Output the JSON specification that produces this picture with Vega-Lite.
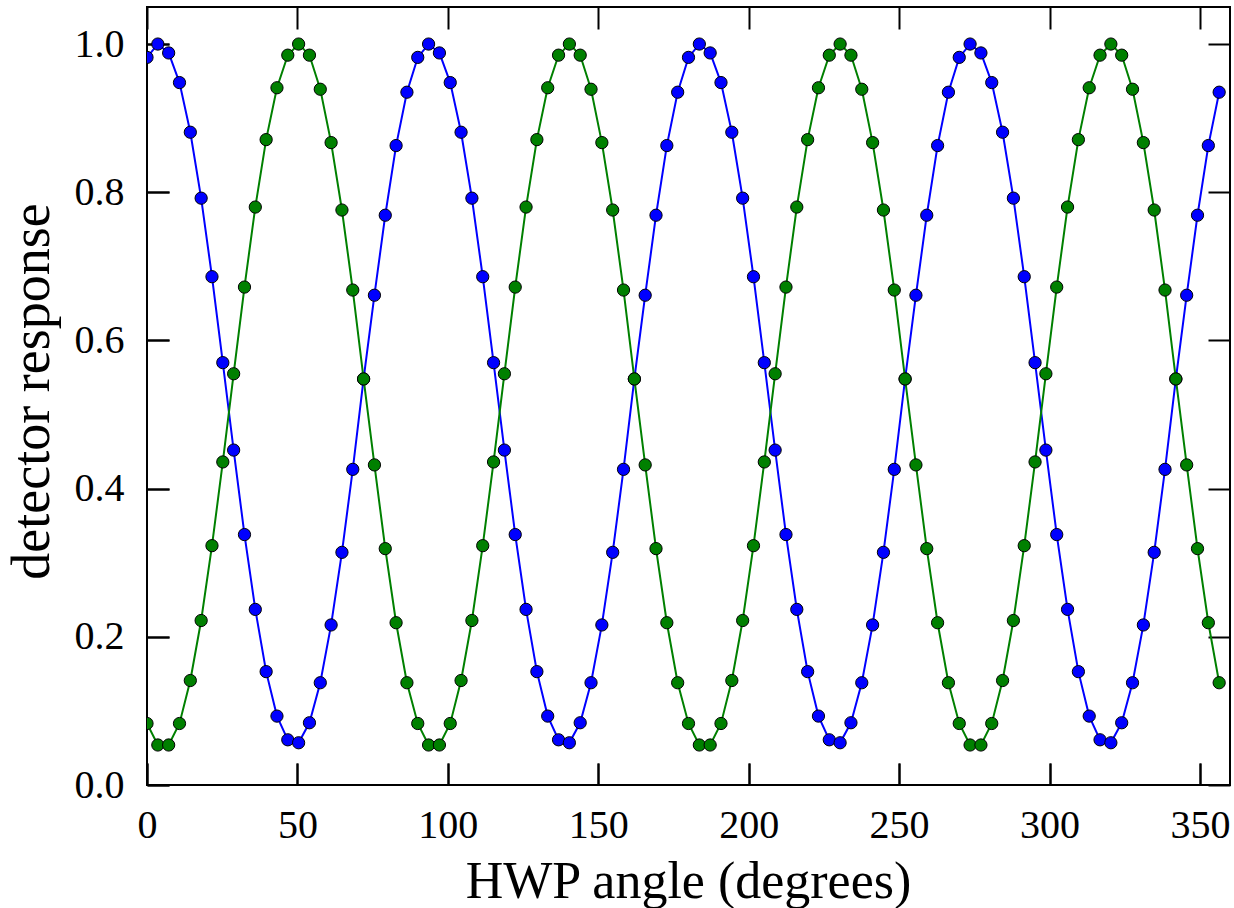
{
  "$schema": "https://vega.github.io/schema/vega-lite/v6.json",
  "autosize": {"type": "none"},
  "width": 1083,
  "height": 778,
  "padding": {"left": 147, "top": 7, "right": 4, "bottom": 123},
  "background": "white",
  "config": {
    "view": {"stroke": "black", "strokeWidth": 2},
    "axis": {
      "grid": false,
      "domain": false,
      "zindex": 1,
      "labelFlush": false,
      "labelOverlap": false,
      "ticks": true,
      "tickColor": "#000000",
      "tickOpacity": 1,
      "tickWidth": 2,
      "tickSize": -22,
      "labelFont": "Liberation Serif",
      "labelFontSize": 40,
      "labelColor": "black",
      "titleFont": "Liberation Serif",
      "titleFontSize": 52,
      "titleFontWeight": "normal",
      "titleColor": "black"
    }
  },
  "datasets": {
    "blue": [
      {"a":0,"r":0.982},{"a":3.6,"r":1.0},{"a":7.2,"r":0.988},{"a":10.8,"r":0.948},{"a":14.4,"r":0.881},{"a":18,"r":0.792},{"a":21.6,"r":0.686},{"a":25.2,"r":0.570},{"a":28.8,"r":0.452},{"a":32.4,"r":0.338},{"a":36,"r":0.237},{"a":39.6,"r":0.153},{"a":43.2,"r":0.093},{"a":46.8,"r":0.061},{"a":50.4,"r":0.057},{"a":54,"r":0.084},{"a":57.6,"r":0.138},{"a":61.2,"r":0.216},{"a":64.8,"r":0.314},{"a":68.4,"r":0.426},{"a":72,"r":0.548},{"a":75.6,"r":0.661},{"a":79.2,"r":0.769},{"a":82.8,"r":0.863},{"a":86.4,"r":0.935},
      {"a":90,"r":0.982},{"a":93.6,"r":1.0},{"a":97.2,"r":0.988},{"a":100.8,"r":0.948},{"a":104.4,"r":0.881},{"a":108,"r":0.792},{"a":111.6,"r":0.686},{"a":115.2,"r":0.570},{"a":118.8,"r":0.452},{"a":122.4,"r":0.338},{"a":126,"r":0.237},{"a":129.6,"r":0.153},{"a":133.2,"r":0.093},{"a":136.8,"r":0.061},{"a":140.4,"r":0.057},{"a":144,"r":0.084},{"a":147.6,"r":0.138},{"a":151.2,"r":0.216},{"a":154.8,"r":0.314},{"a":158.4,"r":0.426},{"a":162,"r":0.548},{"a":165.6,"r":0.661},{"a":169.2,"r":0.769},{"a":172.8,"r":0.863},{"a":176.4,"r":0.935},
      {"a":180,"r":0.982},{"a":183.6,"r":1.0},{"a":187.2,"r":0.988},{"a":190.8,"r":0.948},{"a":194.4,"r":0.881},{"a":198,"r":0.792},{"a":201.6,"r":0.686},{"a":205.2,"r":0.570},{"a":208.8,"r":0.452},{"a":212.4,"r":0.338},{"a":216,"r":0.237},{"a":219.6,"r":0.153},{"a":223.2,"r":0.093},{"a":226.8,"r":0.061},{"a":230.4,"r":0.057},{"a":234,"r":0.084},{"a":237.6,"r":0.138},{"a":241.2,"r":0.216},{"a":244.8,"r":0.314},{"a":248.4,"r":0.426},{"a":252,"r":0.548},{"a":255.6,"r":0.661},{"a":259.2,"r":0.769},{"a":262.8,"r":0.863},{"a":266.4,"r":0.935},
      {"a":270,"r":0.982},{"a":273.6,"r":1.0},{"a":277.2,"r":0.988},{"a":280.8,"r":0.948},{"a":284.4,"r":0.881},{"a":288,"r":0.792},{"a":291.6,"r":0.686},{"a":295.2,"r":0.570},{"a":298.8,"r":0.452},{"a":302.4,"r":0.338},{"a":306,"r":0.237},{"a":309.6,"r":0.153},{"a":313.2,"r":0.093},{"a":316.8,"r":0.061},{"a":320.4,"r":0.057},{"a":324,"r":0.084},{"a":327.6,"r":0.138},{"a":331.2,"r":0.216},{"a":334.8,"r":0.314},{"a":338.4,"r":0.426},{"a":342,"r":0.548},{"a":345.6,"r":0.661},{"a":349.2,"r":0.769},{"a":352.8,"r":0.863},{"a":356.4,"r":0.935}
    ],
    "green": [
      {"a":0,"r":0.083},{"a":3.6,"r":0.054},{"a":7.2,"r":0.054},{"a":10.8,"r":0.083},{"a":14.4,"r":0.141},{"a":18,"r":0.222},{"a":21.6,"r":0.323},{"a":25.2,"r":0.436},{"a":28.8,"r":0.555},{"a":32.4,"r":0.672},{"a":36,"r":0.780},{"a":39.6,"r":0.871},{"a":43.2,"r":0.941},{"a":46.8,"r":0.985},{"a":50.4,"r":1.0},{"a":54,"r":0.985},{"a":57.6,"r":0.939},{"a":61.2,"r":0.867},{"a":64.8,"r":0.776},{"a":68.4,"r":0.668},{"a":72,"r":0.548},{"a":75.6,"r":0.432},{"a":79.2,"r":0.319},{"a":82.8,"r":0.219},{"a":86.4,"r":0.138},
      {"a":90,"r":0.083},{"a":93.6,"r":0.054},{"a":97.2,"r":0.054},{"a":100.8,"r":0.083},{"a":104.4,"r":0.141},{"a":108,"r":0.222},{"a":111.6,"r":0.323},{"a":115.2,"r":0.436},{"a":118.8,"r":0.555},{"a":122.4,"r":0.672},{"a":126,"r":0.780},{"a":129.6,"r":0.871},{"a":133.2,"r":0.941},{"a":136.8,"r":0.985},{"a":140.4,"r":1.0},{"a":144,"r":0.985},{"a":147.6,"r":0.939},{"a":151.2,"r":0.867},{"a":154.8,"r":0.776},{"a":158.4,"r":0.668},{"a":162,"r":0.548},{"a":165.6,"r":0.432},{"a":169.2,"r":0.319},{"a":172.8,"r":0.219},{"a":176.4,"r":0.138},
      {"a":180,"r":0.083},{"a":183.6,"r":0.054},{"a":187.2,"r":0.054},{"a":190.8,"r":0.083},{"a":194.4,"r":0.141},{"a":198,"r":0.222},{"a":201.6,"r":0.323},{"a":205.2,"r":0.436},{"a":208.8,"r":0.555},{"a":212.4,"r":0.672},{"a":216,"r":0.780},{"a":219.6,"r":0.871},{"a":223.2,"r":0.941},{"a":226.8,"r":0.985},{"a":230.4,"r":1.0},{"a":234,"r":0.985},{"a":237.6,"r":0.939},{"a":241.2,"r":0.867},{"a":244.8,"r":0.776},{"a":248.4,"r":0.668},{"a":252,"r":0.548},{"a":255.6,"r":0.432},{"a":259.2,"r":0.319},{"a":262.8,"r":0.219},{"a":266.4,"r":0.138},
      {"a":270,"r":0.083},{"a":273.6,"r":0.054},{"a":277.2,"r":0.054},{"a":280.8,"r":0.083},{"a":284.4,"r":0.141},{"a":288,"r":0.222},{"a":291.6,"r":0.323},{"a":295.2,"r":0.436},{"a":298.8,"r":0.555},{"a":302.4,"r":0.672},{"a":306,"r":0.780},{"a":309.6,"r":0.871},{"a":313.2,"r":0.941},{"a":316.8,"r":0.985},{"a":320.4,"r":1.0},{"a":324,"r":0.985},{"a":327.6,"r":0.939},{"a":331.2,"r":0.867},{"a":334.8,"r":0.776},{"a":338.4,"r":0.668},{"a":342,"r":0.548},{"a":345.6,"r":0.432},{"a":349.2,"r":0.319},{"a":352.8,"r":0.219},{"a":356.4,"r":0.138}
    ]
  },
  "resolve": {"axis": {"x": "independent", "y": "independent"}},
  "layer": [
    {
      "data": {"name": "blue"},
      "mark": {"type": "line", "color": "#0000ff", "strokeWidth": 2, "clip": true},
      "encoding": {
        "x": {"field": "a", "type": "quantitative", "scale": {"domain": [0, 360], "nice": false, "zero": false},
          "axis": {"orient": "bottom", "title": "HWP angle (degrees)", "values": [0,50,100,150,200,250,300,350], "ticks": true, "tickSize": -22, "labelBaseline": "alphabetic", "labelPadding": 74, "titleX": 541, "titleY": 112, "titleBaseline": "alphabetic", "titleAlign": "center", "titleAnchor": null}},
        "y": {"field": "r", "type": "quantitative", "scale": {"domain": [0, 1.05], "nice": false, "zero": false},
          "axis": {"orient": "left", "title": "detector response", "titleFontSize": 54, "values": [0,0.2,0.4,0.6,0.8,1.0], "format": ".1f", "ticks": true, "tickSize": -22, "labelPadding": 45, "titleX": -99, "titleY": 384, "titleBaseline": "alphabetic", "titleAlign": "center", "titleAngle": -90, "titleAnchor": null}}
      }
    },
    {
      "data": {"name": "blue"},
      "mark": {"type": "point", "filled": true, "fill": "#0000ff", "stroke": "black", "strokeWidth": 1, "size": 150, "opacity": 1, "clip": true},
      "encoding": {
        "x": {"field": "a", "type": "quantitative", "axis": {"orient": "top", "labels": false, "title": null, "values": [0,50,100,150,200,250,300,350]}},
        "y": {"field": "r", "type": "quantitative", "axis": {"orient": "right", "labels": false, "title": null, "values": [0,0.2,0.4,0.6,0.8,1.0]}}
      }
    },
    {
      "data": {"name": "green"},
      "mark": {"type": "line", "color": "#008000", "strokeWidth": 2, "clip": true},
      "encoding": {
        "x": {"field": "a", "type": "quantitative", "axis": {"orient": "bottom", "labels": false, "title": null, "values": [0,50,100,150,200,250,300,350]}},
        "y": {"field": "r", "type": "quantitative", "axis": {"orient": "left", "labels": false, "title": null, "values": [0,0.2,0.4,0.6,0.8,1.0]}}
      }
    },
    {
      "data": {"name": "green"},
      "mark": {"type": "point", "filled": true, "fill": "#008000", "stroke": "black", "strokeWidth": 1, "size": 150, "opacity": 1, "clip": true},
      "encoding": {
        "x": {"field": "a", "type": "quantitative", "axis": null},
        "y": {"field": "r", "type": "quantitative", "axis": null}
      }
    }
  ]
}
